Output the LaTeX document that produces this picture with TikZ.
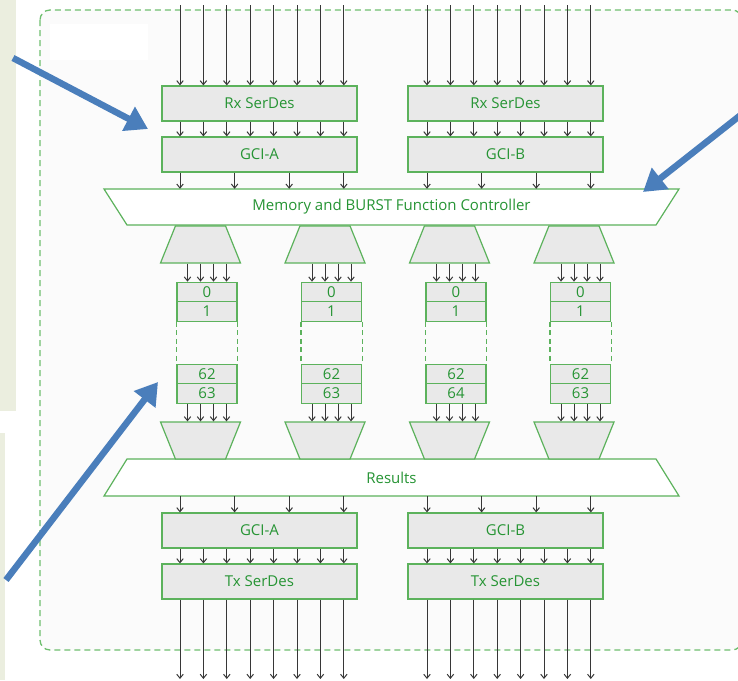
\documentclass[tikz,border=0pt]{standalone}
\usepackage{fontspec}
\setmainfont{Open Sans}
\usetikzlibrary{shapes.geometric,arrows.meta}

\definecolor{boxgreen}{RGB}{92,178,92}
\definecolor{textgreen}{RGB}{38,148,52}
\definecolor{dashgreen}{RGB}{110,190,110}
\definecolor{boxgray}{RGB}{233,233,233}
\definecolor{panelgray}{RGB}{251,251,251}
\definecolor{notecol}{RGB}{74,126,187}
\definecolor{stripcol}{RGB}{235,238,223}
\definecolor{sigline}{RGB}{55,55,55}

\tikzset{
  blk/.style={draw=boxgreen, fill=boxgray, line width=1.2pt, text=textgreen,
    font=\fontsize{15}{17}\selectfont, inner sep=0pt,
    minimum width=195pt, minimum height=35pt},
  cell/.style={blk, minimum width=60pt, minimum height=19.5pt},
  muxup/.style={trapezium, trapezium angle=73.4, trapezium stretches=true,
    draw=boxgreen, fill=boxgray, line width=1.2pt, inner sep=3pt,
    minimum width=80pt, minimum height=37pt},
  muxdown/.style={muxup, shape border rotate=180},
  busline/.style={draw=boxgreen, fill=white, line width=1.2pt},
  buslbl/.style={text=textgreen, font=\fontsize{15}{17}\selectfont, inner sep=0pt,
    minimum width=575pt, minimum height=36pt},
  sig/.style={draw=sigline, line width=1pt, -{Straight Barb[length=4pt,width=6.5pt]}},
  note/.style={draw=notecol, line width=6.5pt, -{Triangle[length=22pt,width=26pt]}}
}

\begin{document}
\begin{tikzpicture}[x=1pt,y=-1pt]
\useasboundingbox (0,0) rectangle (738,680);

\fill[stripcol] (0,0) rectangle (16,411);
\fill[stripcol] (0,433) rectangle (5,680);
\draw[dashgreen, line width=1.3pt, dash pattern=on 6pt off 4pt, fill=panelgray,
  rounded corners=10pt] (40,10) rectangle (742,650);
\fill[white] (50,24) rectangle (148,60);

\node[blk] (rxA) at (259.5,103.5) {Rx SerDes};
\node[blk] (gciA) at (259.5,154.5) {GCI-A};
\node[blk] (rxB) at (505.5,103.5) {Rx SerDes};
\node[blk] (gciB) at (505.5,154.5) {GCI-B};
\draw[busline] (104,189) -- (679,189) -- (656,225) -- (127,225) -- cycle;
\node[buslbl] (ctrl) at (391.5,207) {Memory and BURST Function Controller};

\draw[busline] (127,459) -- (656,459) -- (679,496) -- (104,496) -- cycle;
\node[buslbl, minimum height=37pt] (res) at (391.5,477.5) {Results};
\node[blk] (gciC) at (259.5,530.5) {GCI-A};
\node[blk] (txA) at (259.5,581.5) {Tx SerDes};
\node[blk] (gciD) at (505.5,530.5) {GCI-B};
\node[blk] (txB) at (505.5,581.5) {Tx SerDes};

\foreach \k/\last in {0/63,1/63,2/64,3/63} {
  \node[muxup] (up\k) at ({200.5+124.5*\k},244.5) {};
  \node[muxdown] (dn\k) at ({200.5+124.5*\k},440.5) {};
  \node[cell] (ma\k) at ({207+124.5*\k},292) {0};
  \node[cell] (mb\k) at ({207+124.5*\k},311.5) {1};
  \node[cell] (mc\k) at ({207+124.5*\k},374) {62};
  \node[cell] (md\k) at ({207+124.5*\k},393.5) {\last};
  \draw[boxgreen, line width=1.2pt, dash pattern=on 5pt off 3.5pt] (mb\k.south west) -- (mc\k.north west);
  \draw[boxgreen, line width=1.2pt, dash pattern=on 5pt off 3.5pt] (mb\k.south east) -- (mc\k.north east);
  \foreach \j in {0,...,3} {
    \coordinate (mx\k\j) at ({187.5+124.5*\k+13*\j},0);
    \draw[sig] (up\k.south -| mx\k\j) -- (ma\k.north -| mx\k\j);
    \draw[sig] (md\k.south -| mx\k\j) -- (dn\k.north -| mx\k\j);
  }
}

\foreach \i in {1,...,8} {
  \coordinate (inA\i) at ({180+23.4*(\i-1)},5);
  \coordinate (inB\i) at ({427+23.4*(\i-1)},5);
  \coordinate (outA\i) at ({180+23.4*(\i-1)},679);
  \coordinate (outB\i) at ({427+23.4*(\i-1)},679);
  \draw[sig] (inA\i) -- (inA\i |- rxA.north);
  \draw[sig] (inB\i) -- (inB\i |- rxB.north);
  \draw[sig] (rxA.south -| inA\i) -- (gciA.north -| inA\i);
  \draw[sig] (rxB.south -| inB\i) -- (gciB.north -| inB\i);
  \draw[sig] (gciC.south -| outA\i) -- (txA.north -| outA\i);
  \draw[sig] (gciD.south -| outB\i) -- (txB.north -| outB\i);
  \draw[sig] (txA.south -| outA\i) -- (outA\i);
  \draw[sig] (txB.south -| outB\i) -- (outB\i);
}

\foreach \i in {1,...,4} {
  \coordinate (busA\i) at ({180+54.6*(\i-1)},0);
  \coordinate (busB\i) at ({427+54.6*(\i-1)},0);
  \draw[sig] (gciA.south -| busA\i) -- (ctrl.north -| busA\i);
  \draw[sig] (gciB.south -| busB\i) -- (ctrl.north -| busB\i);
  \draw[sig] (res.south -| busA\i) -- (gciC.north -| busA\i);
  \draw[sig] (res.south -| busB\i) -- (gciD.north -| busB\i);
}

\coordinate (tailA) at (13,58);
\coordinate (tipA) at (148,129);
\coordinate (tailB) at (742,114);
\coordinate (tipB) at (643,192);
\coordinate (tailC) at (6,580);
\coordinate (tipC) at (158,382);
\draw[note] (tailA) -- (tipA);
\draw[note] (tailB) -- (tipB);
\draw[note] (tailC) -- (tipC);
\end{tikzpicture}
\end{document}
